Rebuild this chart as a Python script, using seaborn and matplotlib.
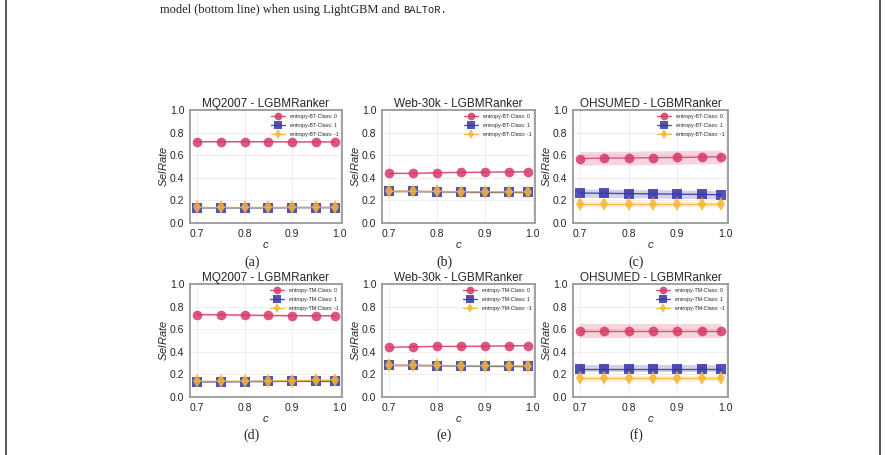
import numpy as np
import pandas as pd
import matplotlib
matplotlib.use("Agg")
import matplotlib.pyplot as plt
from matplotlib.lines import Line2D
import seaborn as sns

# c values on the x axis
c_vals = [0.7, 0.75, 0.8, 0.85, 0.9, 0.95, 0.99]
classes = ["0", "1", "-1"]
titles = ["MQ2007 - LGBMRanker", "Web-30k - LGBMRanker", "OHSUMED - LGBMRanker"] * 2
captions = ["(a)", "(b)", "(c)", "(d)", "(e)", "(f)"]
prefixes = ["entropy-BT-Class: "] * 3 + ["entropy-TM-Class: "] * 3

# mean SelRate per panel, per class (0, 1, -1)
a_0 = [0.72, 0.72, 0.72, 0.72, 0.718, 0.718, 0.718]
a_1 = [0.135, 0.135, 0.135, 0.135, 0.137, 0.137, 0.137]
a_m1 = [0.14, 0.14, 0.14, 0.14, 0.14, 0.14, 0.14]
b_0 = [0.44, 0.44, 0.445, 0.448, 0.45, 0.452, 0.455]
b_1 = [0.28, 0.28, 0.277, 0.275, 0.272, 0.272, 0.27]
b_m1 = [0.28, 0.28, 0.279, 0.277, 0.276, 0.275, 0.275]
c_0 = [0.57, 0.575, 0.575, 0.578, 0.58, 0.583, 0.585]
c_1 = [0.265, 0.263, 0.26, 0.258, 0.255, 0.253, 0.25]
c_m1 = [0.165, 0.165, 0.165, 0.165, 0.165, 0.165, 0.165]
d_0 = [0.73, 0.728, 0.725, 0.722, 0.72, 0.72, 0.718]
d_1 = [0.135, 0.135, 0.137, 0.138, 0.14, 0.14, 0.14]
d_m1 = [0.14, 0.14, 0.14, 0.142, 0.145, 0.147, 0.15]
e_0 = [0.44, 0.445, 0.448, 0.448, 0.45, 0.453, 0.455]
e_1 = [0.28, 0.28, 0.278, 0.276, 0.274, 0.272, 0.27]
e_m1 = [0.28, 0.28, 0.28, 0.278, 0.277, 0.276, 0.275]
f_0 = [0.585, 0.585, 0.585, 0.585, 0.585, 0.585, 0.585]
f_1 = [0.25, 0.25, 0.25, 0.25, 0.25, 0.25, 0.25]
f_m1 = [0.165, 0.165, 0.165, 0.165, 0.165, 0.165, 0.165]

# half width of the shaded band per panel, per class
a_band = [0.008, 0.006, 0.006]
b_band = [0.006, 0.008, 0.008]
c_band = [0.06, 0.037, 0.02]
d_band = [0.008, 0.006, 0.006]
e_band = [0.006, 0.008, 0.008]
f_band = [0.065, 0.032, 0.02]

panels = [(a_0, a_1, a_m1), (b_0, b_1, b_m1), (c_0, c_1, c_m1),
          (d_0, d_1, d_m1), (e_0, e_1, e_m1), (f_0, f_1, f_m1)]
bands = [a_band, b_band, c_band, d_band, e_band, f_band]

colors = ["#d63a66", "#3535a6", "#f5b533"]
markers = ["o", "s", "d"]

sns.set_theme(style="whitegrid")
plt.rcParams["font.family"] = ["Liberation Sans", "DejaVu Sans"]
plt.rcParams["mathtext.fontset"] = "custom"
plt.rcParams["mathtext.it"] = "Liberation Sans:italic"
plt.rcParams["mathtext.rm"] = "Liberation Sans"

fig = plt.figure(figsize=(8.87, 4.55), dpi=100)

lefts = [190, 382, 573]
widths = [152, 153, 155]
tops = [110, 284]
H = 113
W, HH = 887, 455

for i in range(6):
    r, col = divmod(i, 3)
    ax = fig.add_axes([lefts[col] / W, 1 - (tops[r] + H) / HH, widths[col] / W, H / HH])
    rows = []
    for k, cl in enumerate(classes):
        for x, y in zip(c_vals, panels[i][k]):
            rows.append({"c": x, "SelRate": y, "Class": prefixes[i] + cl})
    df = pd.DataFrame(rows)
    labels = [prefixes[i] + cl for cl in classes]
    for k, lab in enumerate(labels):
        sub = df[df["Class"] == lab]
        ax.fill_between(sub["c"], sub["SelRate"] - bands[i][k], sub["SelRate"] + bands[i][k],
                        color=colors[k], alpha=0.22, lw=0)
    sns.lineplot(data=df, x="c", y="SelRate", hue="Class", style="Class",
                 hue_order=labels, style_order=labels,
                 palette=colors, markers=markers, dashes=False,
                 markersize=7, markeredgewidth=0, lw=1, alpha=0.85, ax=ax)
    ax.set_ylim(0, 1.0)
    ax.set_xticks([0.7, 0.8, 0.9, 1.0])
    ax.set_yticks([0.0, 0.2, 0.4, 0.6, 0.8, 1.0])
    ax.tick_params(labelsize=7.5, pad=4, length=0)
    ax.set_title(titles[i], fontsize=8.5, pad=2)
    ax.set_xlabel("$c$", fontsize=8, labelpad=1)
    ax.set_ylabel("$SelRate$", fontsize=8, labelpad=1)
    for s in ax.spines.values():
        s.set_color("#9a9a9a")
        s.set_linewidth(1.3)
    ax.grid(color="#ebebeb", lw=0.6)
    leg = ax.legend(loc="upper right", fontsize=3.8, frameon=False, markerscale=0.8,
                    handlelength=2.8, borderaxespad=0.3, labelspacing=0.75)
    cx = (lefts[col] + widths[col] / 2 - 14) / W
    cy = 1 - (262 if r == 0 else 435) / HH
    fig.text(cx, cy, captions[i], ha="center", va="center", fontsize=10,
             family="Liberation Serif", color="#222222")

# page frame and caption text from the paper
for xf in [6.5 / W, 880.5 / W]:
    fig.add_artist(Line2D([xf, xf], [0, 1], transform=fig.transFigure, color="#555555", lw=1.4))

t1 = fig.text(160 / W, 1 - 10 / HH, "model (bottom line) when using LightGBM and ",
              fontsize=9, family="Liberation Serif", va="center", color="#222222")
fig.canvas.draw()
bb = t1.get_window_extent()
x2 = bb.x1 / fig.bbox.width
t2 = fig.text(x2, 1 - 10 / HH, "BALToR.", fontsize=7.5, family="Liberation Mono",
              va="center", color="#222222")

fig.savefig("out.png", dpi=100)
